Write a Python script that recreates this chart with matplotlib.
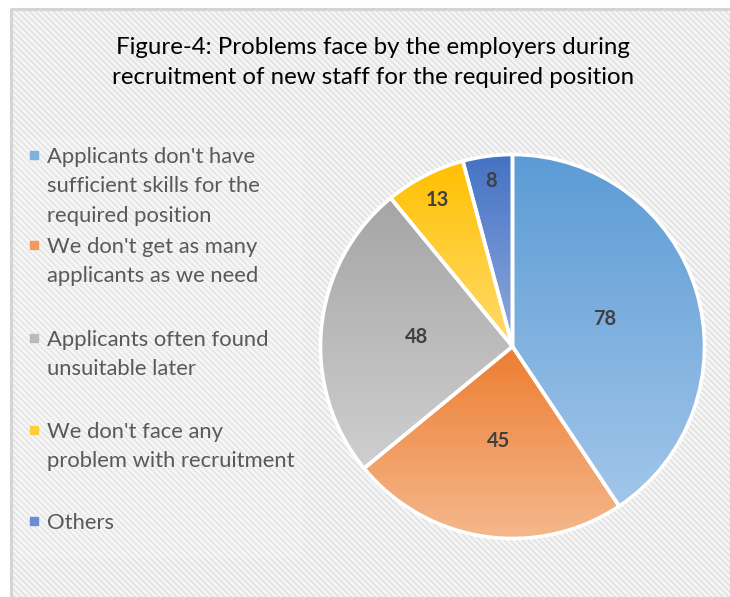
import numpy as np
import matplotlib
matplotlib.use("Agg")
import matplotlib.pyplot as plt
from matplotlib.colors import LinearSegmentedColormap, to_rgb
from matplotlib.patches import Rectangle

title = "Figure-4: Problems face by the employers during\nrecruitment of new staff for the required position"
categories = [
    "Applicants don't have\nsufficient skills for the\nrequired position",
    "We don't get as many\napplicants as we need",
    "Applicants often found\nunsuitable later",
    "We don't face any\nproblem with recruitment",
    "Others",
]
values = [78, 45, 48, 13, 8]
top_colors = ["#5B9BD5", "#ED7D31", "#A5A5A5", "#FFC000", "#4472C4"]
bottom_colors = ["#A2C6E9", "#F5B88C", "#CFCFCF", "#FFDB6E", "#90AADD"]
label_dist = [0.5, 0.5, 0.5, 0.86, 0.87]

W, H = 730, 597
fig = plt.figure(figsize=(W / 100, H / 100), dpi=100)
fig.patch.set_facecolor("white")

# Diagonal striped chart-area background inside a light frame
bg = fig.add_axes([0, 0, 1, 1])
bg.set_axis_off()
yy, xx = np.mgrid[0:H, 0:W]
stripes = 0.5 + 0.5 * np.cos(2 * np.pi * (xx - yy) / 6.0)
shade = 0.975 - 0.085 * stripes
rgb = np.dstack([shade, shade, shade])
bg.imshow(rgb, extent=[0, W, H, 0], interpolation="bilinear", aspect="auto")
bg.set_xlim(0, W)
bg.set_ylim(H, 0)
bg.add_patch(Rectangle((0, 0), 10, H, color="white", zorder=2))
bg.add_patch(Rectangle((0, 0), W, 8, color="white", zorder=2))
bg.plot([10.5, 10.5, W + 5], [H + 5, 8.5, 8.5], color="#D4D4D4", lw=2.2, zorder=3)
bg.add_patch(Rectangle((18, 138), 285, 420, color="white", alpha=0.15, lw=0, zorder=2))

# Title
bg.text(373, 62.5, title, ha="center", va="center", fontsize=17.3,
        family=["Lato", "DejaVu Sans"], color="black", linespacing=1.5, zorder=4)

# Legend
entry_y = [155, 245, 338, 430, 521]
for cat, c1, c2, y in zip(categories, top_colors, bottom_colors, entry_y):
    mid = tuple((np.array(to_rgb(c1)) + np.array(to_rgb(c2))) / 2)
    bg.add_patch(Rectangle((30, y - 4), 8, 8, color=mid, zorder=4))
    bg.text(47, y - 8, cat, ha="left", va="top", fontsize=15.8,
            family=["Lato", "DejaVu Sans"], color="#595959",
            linespacing=1.58, zorder=4)

# Pie
cx, cy, R = 512.5, 346.5, 192
ax = fig.add_axes([(cx - R) / W, (H - cy - R) / H, 2 * R / W, 2 * R / H])
ax.set_axis_off()
wedges, _ = ax.pie(values, startangle=90, counterclock=False, radius=1,
                   wedgeprops=dict(edgecolor="white", linewidth=2.6, clip_on=False))
ax.set_aspect("equal")

# Vertical gradient fill per slice, darker at the top
grad = np.linspace(0, 1, 256).reshape(-1, 1)
for w, c1, c2 in zip(wedges, top_colors, bottom_colors):
    ext = w.get_path().get_extents()
    cmap = LinearSegmentedColormap.from_list("g", [c1, c2])
    im = ax.imshow(grad, cmap=cmap, extent=[ext.x0, ext.x1, ext.y0, ext.y1],
                   origin="upper", aspect="auto", zorder=1, interpolation="bilinear")
    im.set_clip_path(w)
    w.set_facecolor("none")
    w.set_zorder(2)
ax.set_xlim(-1.0, 1.0)
ax.set_ylim(-1.0, 1.0)

total = sum(values)
start = 90.0
for v, d in zip(values, label_dist):
    span = v / total * 360
    mid = np.deg2rad(start - span / 2)
    ax.text(d * np.cos(mid), d * np.sin(mid), str(v), ha="center", va="center",
            fontsize=14.5, fontweight="bold", color="#404040",
            family=["Lato", "DejaVu Sans"], zorder=5)
    start -= span

fig.savefig("out.png", dpi=100)
